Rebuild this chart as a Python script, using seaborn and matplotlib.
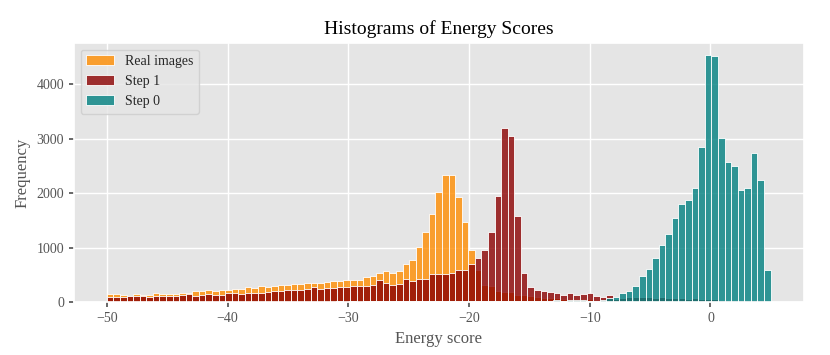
import numpy as np
import pandas as pd
import matplotlib
matplotlib.use("Agg")
import matplotlib.pyplot as plt
import seaborn as sns

# Bin counts (100 bins per series)
real_counts = [
    146, 146, 140, 115, 150, 130, 135, 170, 155, 160,
    160, 168, 172, 205, 208, 225, 208, 225, 222, 250,
    245, 275, 262, 295, 285, 302, 325, 312, 345, 338,
    355, 365, 358, 378, 385, 398, 415, 412, 412, 467,
    479, 539, 582, 539, 576, 703, 782, 1024, 1285, 1618,
    2030, 2330, 2330, 1935, 1480, 958, 590, 313, 300, 202,
    200, 190, 141, 129, 123, 98, 86, 80, 80, 67,
    65, 60, 60, 55, 50, 45, 40, 38, 35, 32,
    30, 28, 26, 25, 24, 22, 20, 20, 18, 17,
    16, 15, 14, 13, 12, 12, 11, 10, 10, 9,
]
step1_counts = [
    104, 100, 100, 110, 110, 115, 105, 120, 115, 120,
    118, 140, 150, 118, 128, 155, 140, 128, 165, 170,
    150, 180, 172, 182, 200, 212, 214, 230, 236, 232,
    255, 290, 252, 268, 270, 290, 282, 297, 309, 303,
    327, 418, 358, 321, 339, 430, 394, 424, 424, 515,
    527, 527, 539, 594, 595, 700, 822, 963, 1282, 1945,
    3196, 3043, 1583, 546, 276, 227, 209, 184, 166, 141,
    172, 141, 160, 175, 115, 95, 132, 70, 90, 95,
    100, 95, 100, 90, 95, 90, 85, 80, 70, 75,
    60, 55, 55, 50, 50, 45, 45, 45, 40, 45,
]
step0_counts = [
    12, 8, 10, 14, 9, 11, 8, 13, 10, 12,
    9, 11, 14, 10, 12, 9, 13, 11, 10, 12,
    14, 11, 13, 12, 15, 13, 12, 14, 16, 13,
    15, 14, 17, 15, 18, 16, 20, 17, 19, 21,
    18, 22, 20, 24, 21, 23, 26, 22, 25, 24,
    27, 25, 28, 26, 30, 27, 29, 31, 28, 30,
    32, 30, 34, 31, 33, 35, 32, 36, 34, 38,
    40, 45, 30, 35, 50, 80, 100, 174, 210, 296,
    485, 614, 815, 1053, 1255, 1548, 1810, 1883, 2103, 2848,
    4533, 4515, 3007, 2567, 2500, 2055, 2091, 2744, 2238, 595,
]

labels = ["Real images", "Step 1", "Step 0"]

# value range of each histogram
real_range = (-50.0, 4.43)
step1_range = (-50.0, 4.43)
step0_range = (-49.52, 4.98)
n_bins = 100

sns.set_theme(style="darkgrid", rc={
    "axes.facecolor": "#e5e5e5",
    "grid.color": "white",
    "grid.linewidth": 1.0,
    "xtick.bottom": True,
    "ytick.left": True,
    "xtick.major.size": 3.5,
    "ytick.major.size": 3.5,
    "xtick.color": "#555555",
    "ytick.color": "#555555",
    "axes.labelcolor": "#555555",
    "legend.facecolor": "inherit",
    "legend.edgecolor": "#cccccc",
})
plt.rcParams["font.family"] = ["Liberation Serif", "DejaVu Serif"]

fig, ax = plt.subplots(figsize=(8.3, 3.55), dpi=100)
fig.subplots_adjust(left=0.0887, right=0.9684, bottom=0.148, top=0.88)

series = [
    (real_counts, real_range, "darkorange", labels[0]),
    (step1_counts, step1_range, "darkred", labels[1]),
    (step0_counts, step0_range, "teal", labels[2]),
]
for counts, rng, color, label in series:
    edges = np.linspace(rng[0], rng[1], n_bins + 1)
    df = pd.DataFrame({
        "score": (edges[:-1] + edges[1:]) / 2,
        "count": counts,
    })
    sns.histplot(data=df, x="score", weights="count", bins=list(edges),
                 color=color, alpha=0.8, edgecolor="white", linewidth=0.6,
                 label=label, ax=ax)

ax.set_title("Histograms of Energy Scores", fontsize=14, color="black")
ax.set_xlabel("Energy score", fontsize=12)
ax.set_ylabel("Frequency", fontsize=12)
ax.tick_params(labelsize=10)
ax.legend(loc="upper left", fontsize=10)

plt.savefig("out.png", dpi=100)
plt.close()
